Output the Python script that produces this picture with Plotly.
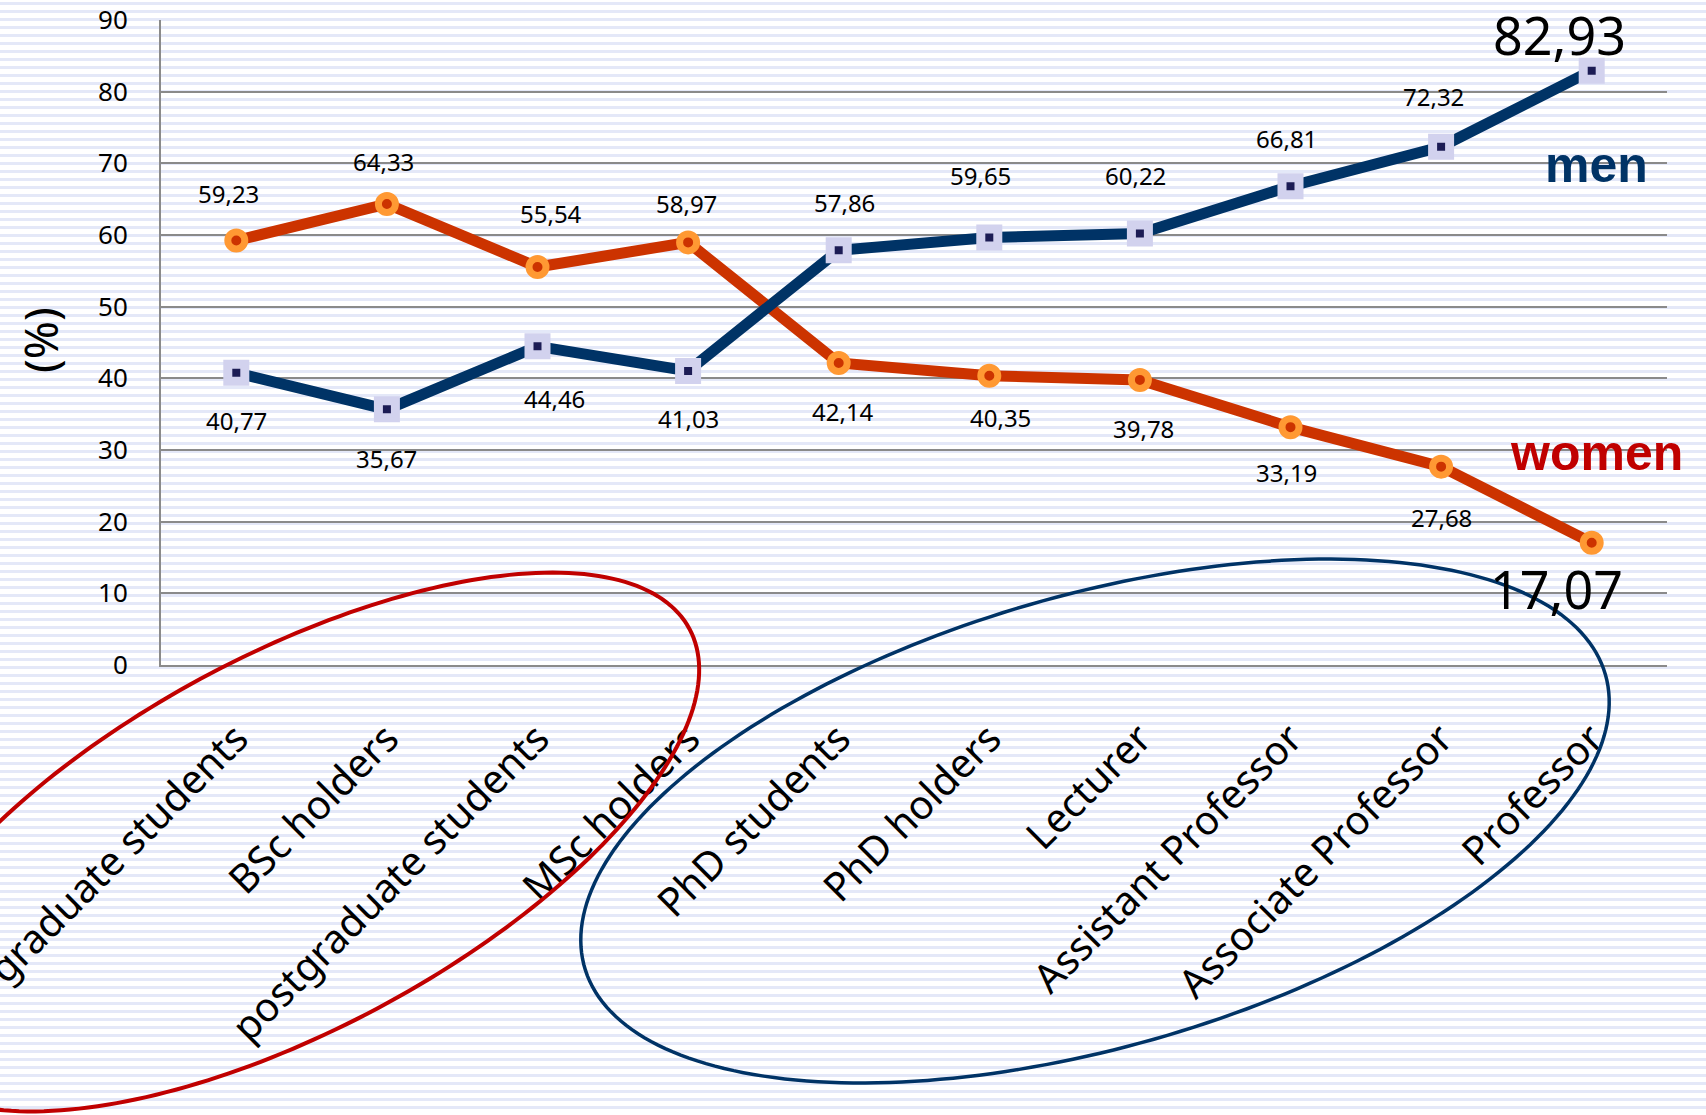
import numpy as np
import plotly.graph_objects as go

# ---------------- data ----------------
categories = ["undergraduate students", "BSc holders", "postgraduate students", "MSc holders",
              "PhD students", "PhD holders", "Lecturer", "Assistant Professor",
              "Associate Professor", "Professor"]
men = [40.77, 35.67, 44.46, 41.03, 57.86, 59.65, 60.22, 66.81, 72.32, 82.93]
women = [59.23, 64.33, 55.54, 58.97, 42.14, 40.35, 39.78, 33.19, 27.68, 17.07]
y_ticks = [0, 10, 20, 30, 40, 50, 60, 70, 80, 90]

# label offsets (pixels, styling only)
men_dx = [0, 0, 17, 0, 6, -9, -4, -4, -8, -32]
men_dy = [-48, -49, -52, -48, 48, 62, 58, 48, 50, 36]
women_dx = [-8, -3, 13, -2, 4, 11, 4, -4, 0, -35]
women_dy = [47, 42, 53, 39, -48, -42, -49, -45, -51, -46]

# ---------------- geometry ----------------
W, H = 1706, 1115
L, R, T, B = 161, 39, 20, 450
pw, ph = W - L - R, H - T - B


def px(x, y):
    return (x - L) / pw, (H - B - y) / ph


FONT = "Noto Sans"
MEN_C = "#003366"
WOMEN_C = "#cc3300"

fig = go.Figure()

fig.add_trace(go.Scatter(
    x=categories, y=women, mode="lines+markers", name="women",
    line=dict(color=WOMEN_C, width=11),
    marker=dict(symbol="circle", size=17, color=WOMEN_C, line=dict(color="#ff9933", width=7)),
    cliponaxis=False, showlegend=False))
fig.add_trace(go.Scatter(
    x=categories, y=men, mode="lines+markers", name="men",
    line=dict(color=MEN_C, width=11),
    marker=dict(symbol="square", size=17, color="#1c1c55", line=dict(color="#d2d2ee", width=9)),
    cliponaxis=False, showlegend=False))

annotations = []


def fmt(v):
    return f"{v:.2f}".replace(".", ",")


n = len(categories)
for i in range(n):
    big = i == n - 1
    annotations.append(dict(x=categories[i], y=men[i], text=fmt(men[i]), showarrow=False,
                            xshift=men_dx[i], yshift=men_dy[i],
                            xanchor="center", yanchor="middle",
                            font=dict(family=FONT, size=52 if big else 24, color="black")))
    annotations.append(dict(x=categories[i], y=women[i], text=fmt(women[i]), showarrow=False,
                            xshift=women_dx[i], yshift=women_dy[i],
                            xanchor="center", yanchor="middle",
                            font=dict(family=FONT, size=52 if big else 24, color="black")))

# series labels
mx, my = px(1596, 165)
annotations.append(dict(xref="paper", yref="paper", x=mx, y=my, text="<b>men</b>", showarrow=False,
                        xanchor="center", yanchor="middle",
                        font=dict(family="Liberation Sans", size=50, color=MEN_C)))
wx, wy = px(1596, 453)
annotations.append(dict(xref="paper", yref="paper", x=wx, y=wy, text="<b>women</b>", showarrow=False,
                        xanchor="center", yanchor="middle",
                        font=dict(family="Liberation Sans", size=50, color="#c00000")))
# y title
tx, ty = px(40, 340)
annotations.append(dict(xref="paper", yref="paper", x=tx, y=ty, text="(%)", showarrow=False,
                        xanchor="center", yanchor="middle",
                        textangle=-90, font=dict(family=FONT, size=46, color="black")))

# background stripes
x0, _ = px(0, 0)
x1, _ = px(W, 0)
segs = []
yy = 3.5
while yy < H:
    _, py = px(0, yy)
    segs.append(f"M{x0:.5f},{py:.5f}L{x1:.5f},{py:.5f}")
    yy += 8
shapes = [dict(type="path", xref="paper", yref="paper", path="".join(segs),
               line=dict(color="#e4e8f8", width=3), layer="below")]


def ellipse(cx, cy, a, b, ang_deg, color, width):
    t = np.linspace(0, 2 * np.pi, 240)
    th = np.radians(ang_deg)
    u = np.array([np.cos(th), -np.sin(th)])
    v = np.array([np.sin(th), np.cos(th)])
    xs = cx + a * np.cos(t) * u[0] + b * np.sin(t) * v[0]
    ys = cy + a * np.cos(t) * u[1] + b * np.sin(t) * v[1]
    pts = [px(x, y) for x, y in zip(xs, ys)]
    p = "M" + "L".join(f"{X:.5f},{Y:.5f}" for X, Y in pts) + "Z"
    return dict(type="path", xref="paper", yref="paper", path=p,
                line=dict(color=color, width=width), layer="above")


shapes.append(ellipse(292, 842, 451, 187, 28.2, "#c00000", 4))
shapes.append(ellipse(1095, 821, 531, 226, 16.0, MEN_C, 3.5))

fig.update_layout(
    width=W, height=H, autosize=False,
    margin=dict(l=L, r=R, t=T, b=B, pad=0),
    paper_bgcolor="white", plot_bgcolor="rgba(0,0,0,0)",
    template="none",
    showlegend=False,
    annotations=annotations,
    shapes=shapes,
    xaxis=dict(type="category", range=[-0.5, n - 0.5], showgrid=False, zeroline=False,
               showline=True, linecolor="#8a8a8a", linewidth=2, ticks="",
               tickangle=-45, ticklabelstandoff=32, automargin=False,
               tickfont=dict(family=FONT, size=40, color="black")),
    yaxis=dict(range=[0, 90], tickvals=y_ticks, showgrid=True, gridcolor="#8a8a8a", gridwidth=1.5,
               zeroline=False, showline=True, linecolor="#8a8a8a", linewidth=2, ticks="",
               ticklabelstandoff=26, automargin=False,
               tickfont=dict(family=FONT, size=26, color="black")),
)

fig.write_html("out.html", config={"displayModeBar": False},
               post_script="document.body.style.margin='0';document.body.style.overflow='hidden';")
